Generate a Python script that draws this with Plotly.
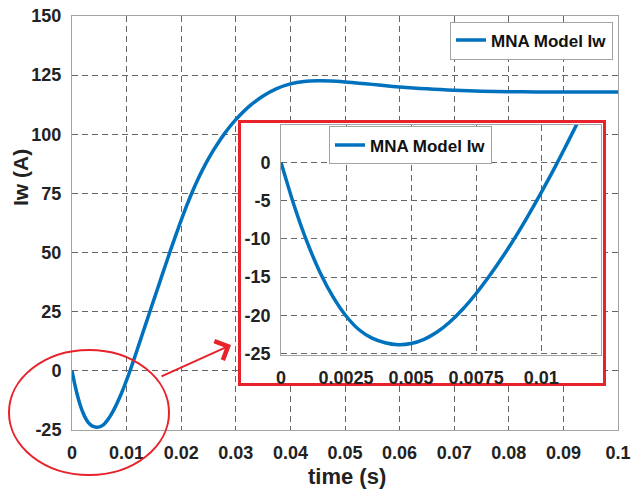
import plotly.graph_objects as go

# ---- data ----
t_s = [0, 0.0005, 0.001, 0.0015, 0.002, 0.0025, 0.003, 0.0035, 0.004, 0.0045,
       0.005, 0.0055, 0.006, 0.0065, 0.007, 0.0075, 0.008, 0.0085, 0.009, 0.0095,
       0.01, 0.0105, 0.011, 0.0115, 0.012, 0.013, 0.014, 0.015, 0.016, 0.017,
       0.018, 0.019, 0.02, 0.021, 0.022, 0.023, 0.024, 0.025, 0.026, 0.027,
       0.028, 0.029, 0.03, 0.0325, 0.035, 0.0375, 0.04, 0.0425, 0.045, 0.0475,
       0.05, 0.0525, 0.055, 0.0575, 0.06, 0.0625, 0.065, 0.0675, 0.07, 0.075,
       0.08, 0.085, 0.09, 0.095, 0.1]
iw_a = [0, -5.6, -10.4, -14.4, -17.6, -20.1, -21.9, -23.0, -23.6, -23.85,
        -23.7, -23.15, -22.2, -20.85, -19.15, -17.15, -14.9, -12.45, -9.8, -6.95,
        -3.95, -0.8, 2.5, 5.9, 9.35, 16.3, 23.2, 30.1, 37.0, 43.9,
        50.7, 57.3, 63.7, 69.8, 75.5, 80.7, 85.4, 89.7, 93.6, 97.2,
        100.5, 103.5, 106.2, 111.9, 116.2, 119.3, 121.3, 122.3, 122.6, 122.5,
        122.1, 121.6, 121.1, 120.5, 120.0, 119.6, 119.2, 118.9, 118.6, 118.2,
        118.0, 117.9, 117.9, 117.9, 117.9]

series_name = "MNA Model Iw"
main_x_ticks = [0, 0.01, 0.02, 0.03, 0.04, 0.05, 0.06, 0.07, 0.08, 0.09, 0.1]
main_x_text = ["0", "0.01", "0.02", "0.03", "0.04", "0.05", "0.06", "0.07", "0.08", "0.09", "0.1"]
main_y_ticks = [-25, 0, 25, 50, 75, 100, 125, 150]
main_y_text = ["-25", "0", "25", "50", "75", "100", "125", "150"]
inset_x_ticks = [0, 0.0025, 0.005, 0.0075, 0.01]
inset_x_text = ["0", "0.0025", "0.005", "0.0075", "0.01"]
inset_y_ticks = [-25, -20, -15, -10, -5, 0]
inset_y_text = ["-25", "-20", "-15", "-10", "-5", "0"]

BLUE = "#0072BD"
RED = "#E8222A"
FONT = "Liberation Sans"
TXT = "#222222"
GRID = "#666666"
FRAME = "#a3a3a3"

line_style = dict(color=BLUE, width=3.5, shape="spline", smoothing=0.6)

fig = go.Figure()
fig.add_trace(go.Scatter(x=t_s, y=iw_a, mode="lines", name=series_name,
                         line=line_style, xaxis="x", yaxis="y", legend="legend"))
# empty trace to create the white, red-framed inset backdrop
fig.add_trace(go.Scatter(x=[None], y=[None], mode="lines", showlegend=False,
                         xaxis="x2", yaxis="y2", hoverinfo="skip"))
fig.add_trace(go.Scatter(x=t_s, y=iw_a, mode="lines", name=series_name,
                         line=line_style, xaxis="x3", yaxis="y3", legend="legend2"))

tickfont = dict(family=FONT, size=18, weight="bold", color=TXT)
grid_common = dict(showgrid=True, gridcolor=GRID, gridwidth=1, griddash="6px,4px",
                   zeroline=False, showline=True, mirror=True, linecolor=FRAME,
                   linewidth=1, ticks="", tickfont=tickfont, automargin=False,
                   ticklabeloverflow="allow")
frame_common = dict(range=[0, 1], showgrid=False, zeroline=False, showticklabels=False,
                    ticks="", showline=True, mirror=True, linecolor=RED, linewidth=3,
                    automargin=False)
legend_font = dict(family=FONT, size=17, weight="bold", color="#111111")

fig.update_layout(
    width=631, height=489,
    margin=dict(l=72, r=13, t=16, b=59, autoexpand=False),
    paper_bgcolor="white", plot_bgcolor="white",
    font=dict(family=FONT, color=TXT),
    xaxis=dict(domain=[0, 1], range=[0, 0.1], tickmode="array", tickvals=main_x_ticks,
               ticktext=main_x_text, anchor="y", ticklabelstandoff=6, **grid_common),
    yaxis=dict(domain=[0, 1], range=[-25, 150], tickmode="array", tickvals=main_y_ticks,
               ticktext=main_y_text, anchor="x", ticklabelstandoff=6, **grid_common),
    xaxis2=dict(domain=[0.3095, 0.9729], anchor="y2", **frame_common),
    yaxis2=dict(domain=[0.113, 0.7411], anchor="x2", **frame_common),
    xaxis3=dict(domain=[0.3828, 0.9689], range=[0, 0.0123], tickmode="array",
                tickvals=inset_x_ticks, ticktext=inset_x_text, anchor="y3",
                ticklabelstandoff=6, **grid_common),
    yaxis3=dict(domain=[0.1812, 0.7367], range=[-25.2, 4.9], tickmode="array",
                tickvals=inset_y_ticks, ticktext=inset_y_text, anchor="x3",
                ticklabelstandoff=6, **grid_common),
    legend=dict(x=0.9908, y=0.9867, xanchor="right", yanchor="top", bgcolor="white",
                bordercolor=FRAME, borderwidth=1, font=legend_font),
    legend2=dict(x=0.4707, y=0.7331, xanchor="left", yanchor="top", bgcolor="white",
                 bordercolor=FRAME, borderwidth=1, font=legend_font),
    showlegend=True,
)

fig.add_annotation(text="Iw (A)", textangle=-90, xref="paper", yref="paper",
                   x=-0.0934, y=0.6087, showarrow=False, xanchor="center", yanchor="middle",
                   font=dict(family=FONT, size=21, weight="bold", color=TXT))
fig.add_annotation(text="time (s)", xref="paper", yref="paper",
                   x=0.5037, y=-0.1135, showarrow=False, xanchor="center", yanchor="middle",
                   font=dict(family=FONT, size=22, weight="bold", color=TXT))

# red ellipse around the dip
fig.add_shape(type="circle", xref="paper", yref="paper",
              x0=-0.1154, x1=0.1777, y0=-0.1087, y1=0.1932,
              line=dict(color=RED, width=2))
# arrow to the inset
fig.add_annotation(text="", xref="paper", yref="paper", x=0.2912, y=0.2053,
                   ax=-71, ay=32, showarrow=True, arrowhead=4, arrowsize=2.0,
                   arrowwidth=2, arrowcolor=RED)

fig.write_html("out.html", config={"displayModeBar": False},
               post_script="document.body.style.margin='0';document.body.style.padding='0';")
